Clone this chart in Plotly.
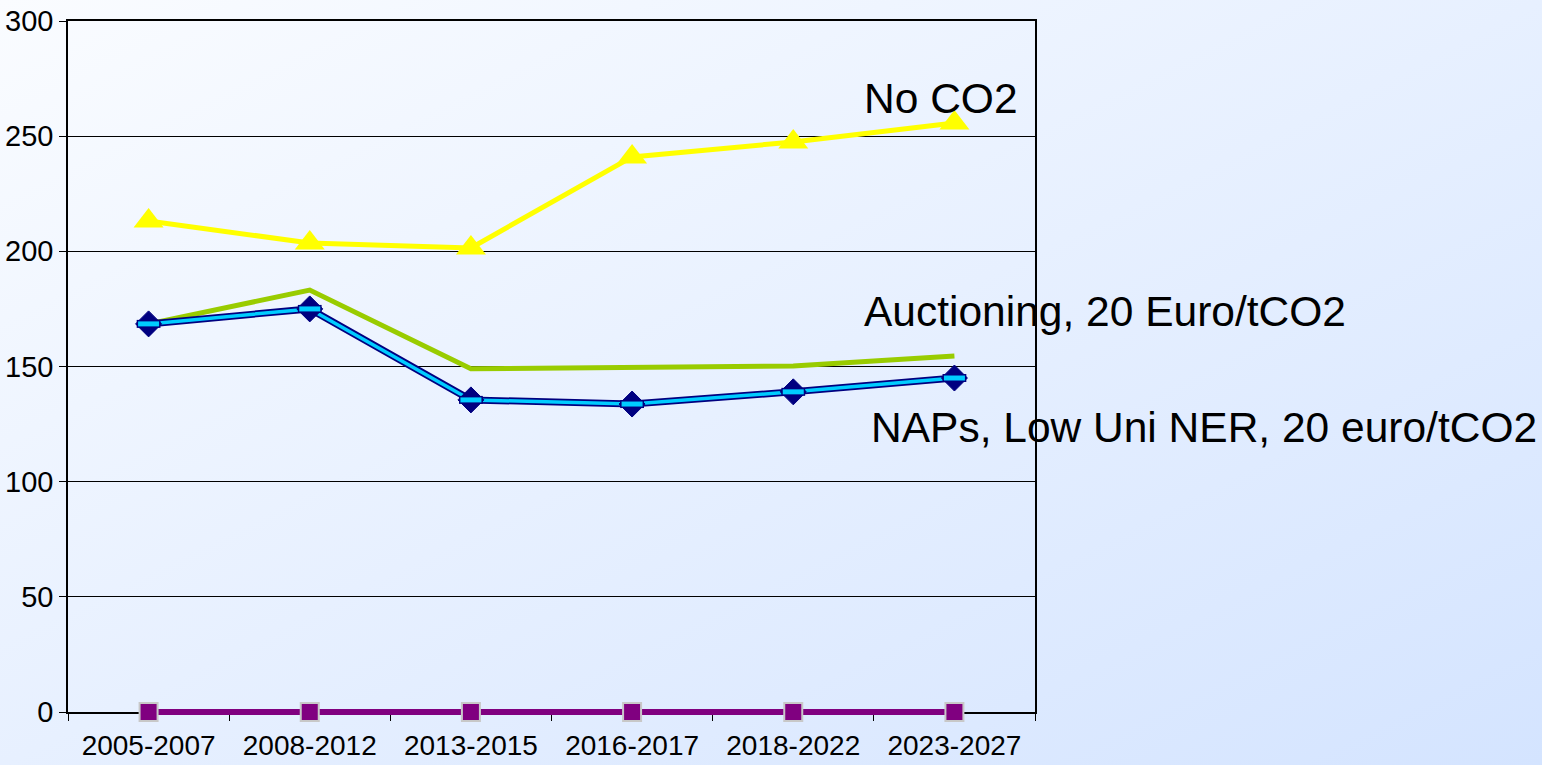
import base64
import plotly.graph_objects as go

# Periods and scenario results
periods = ["2005-2007", "2008-2012", "2013-2015", "2016-2017", "2018-2022", "2023-2027"]
no_co2 = [213.2, 203.6, 201.5, 241.0, 247.5, 255.7]
auctioning = [168.5, 183.2, 149.0, 149.4, 150.2, 154.6]
naps_low_ner = [168.5, 175.0, 135.5, 133.7, 139.0, 145.0]
baseline_zero = [0, 0, 0, 0, 0, 0]

y_ticks = [0, 50, 100, 150, 200, 250, 300]
Y_MAX = 300

W, H = 1542, 765
ML, MR, MT, MB = 68, 507, 21, 53
EXT = 12                      # extra room below the axis for the zero line
PW = W - ML - MR
PH = H - MT - MB              # height of the 0..300 value area
PH_ALL = PH + EXT             # plot area including the extra strip
unit = PH / Y_MAX             # pixels per value unit

FONT = "Liberation Sans, Arial, sans-serif"

fig = go.Figure()

# Auctioning scenario (plain green line)
fig.add_trace(go.Scatter(
    x=periods, y=auctioning, mode="lines",
    line=dict(color="#99cc00", width=5), name="Auctioning, 20 Euro/tCO2",
))

# NAPs scenario: navy outline with cyan core, diamond markers
fig.add_trace(go.Scatter(
    x=periods, y=naps_low_ner, mode="lines",
    line=dict(color="#000080", width=7), hoverinfo="skip", showlegend=False,
))
fig.add_trace(go.Scatter(
    x=periods, y=naps_low_ner, mode="lines+markers",
    line=dict(color="#00ccff", width=3.5),
    marker=dict(symbol="diamond", size=20, color="#000080",
                line=dict(color="#000080", width=1)),
    name="NAPs, Low Uni NER, 20 euro/tCO2",
))
fig.add_trace(go.Scatter(
    x=periods, y=naps_low_ner, mode="markers",
    marker=dict(symbol="line-ew", size=17, line=dict(color="#000080", width=8)),
    hoverinfo="skip", showlegend=False,
))
fig.add_trace(go.Scatter(
    x=periods, y=naps_low_ner, mode="markers",
    marker=dict(symbol="line-ew", size=15, line=dict(color="#00ccff", width=5)),
    hoverinfo="skip", showlegend=False,
))

# No CO2 scenario (yellow with triangles)
fig.add_trace(go.Scatter(
    x=periods, y=no_co2, mode="lines+markers",
    line=dict(color="#ffff00", width=5),
    marker=dict(symbol="triangle-up", size=26, color="#ffff00"),
    name="No CO2",
))

# Zero line (purple squares) on a hidden twin axis that reaches below the
# x axis, so the full line width stays visible on top of the axis
fig.add_trace(go.Scatter(
    x=periods, y=baseline_zero, mode="lines+markers",
    xaxis="x", yaxis="y2",
    line=dict(color="#800080", width=6),
    marker=dict(symbol="square", size=18, color="#800080",
                line=dict(color="#c8c8c8", width=2)),
    cliponaxis=False, name="",
))

# Soft diagonal background gradient
svg = (
    f'<svg xmlns="http://www.w3.org/2000/svg" width="{W}" height="{H}" '
    f'viewBox="0 0 {W} {H}" preserveAspectRatio="none">'
    '<defs><linearGradient id="g" x1="0" y1="0" x2="1" y2="1">'
    '<stop offset="0" stop-color="#fafcff"/>'
    '<stop offset="1" stop-color="#d4e4ff"/>'
    '</linearGradient></defs>'
    f'<rect width="{W}" height="{H}" fill="url(#g)"/></svg>'
)
bg_uri = "data:image/svg+xml;base64," + base64.b64encode(svg.encode()).decode()

# paper coordinates: y=0 at the bottom of the extended strip
fig.add_layout_image(dict(
    source=bg_uri, xref="paper", yref="paper",
    x=-ML / PW, y=1 + MT / PH_ALL, sizex=W / PW, sizey=H / PH_ALL,
    xanchor="left", yanchor="top", sizing="stretch", layer="below",
))

ann_font = dict(family=FONT, size=42.5, color="#000000")
fig.add_annotation(text="No CO2", xref="paper", yref="y",
                   x=(862 - ML) / PW, y=266.5, xanchor="left", yanchor="middle",
                   showarrow=False, font=ann_font)
fig.add_annotation(text="Auctioning, 20 Euro/tCO2", xref="paper", yref="y",
                   x=(862 - ML) / PW, y=174, xanchor="left", yanchor="middle",
                   showarrow=False, font=ann_font)
fig.add_annotation(text="NAPs, Low Uni NER, 20 euro/tCO2", xref="paper", yref="y",
                   x=(869 - ML) / PW, y=123.5, xanchor="left", yanchor="middle",
                   showarrow=False, font=ann_font)

fig.update_layout(
    width=W, height=H, autosize=False,
    margin=dict(l=ML, r=MR, t=MT, b=MB - EXT, pad=0, autoexpand=False),
    paper_bgcolor="rgba(0,0,0,0)",
    plot_bgcolor="rgba(0,0,0,0)",
    showlegend=False,
    font=dict(family=FONT, size=29, color="#000000"),
    xaxis=dict(
        type="category", range=[-0.5, 5.5], tickson="boundaries",
        anchor="y",
        ticks="outside", ticklen=7, tickwidth=1, tickcolor="#000000",
        showline=True, linecolor="#000000", linewidth=1.5, mirror=True,
        showgrid=False, zeroline=False, automargin=False,
        ticklabelstandoff=8, layer="below traces",
        tickfont=dict(family=FONT, size=28, color="#000000"),
    ),
    yaxis=dict(
        domain=[EXT / PH_ALL, 1],
        range=[0, Y_MAX], tickvals=y_ticks,
        ticks="outside", ticklen=7, tickwidth=1, tickcolor="#000000",
        showline=True, linecolor="#000000", linewidth=1.5, mirror=True,
        showgrid=True, gridcolor="#000000", gridwidth=1,
        zeroline=False, automargin=False, layer="below traces",
        tickfont=dict(family=FONT, size=29, color="#000000"),
    ),
    yaxis2=dict(
        domain=[0, 1], anchor="x",
        range=[-EXT / unit, Y_MAX], visible=False,
        showgrid=False, zeroline=False, automargin=False,
    ),
)

fig.write_html("out.html")
